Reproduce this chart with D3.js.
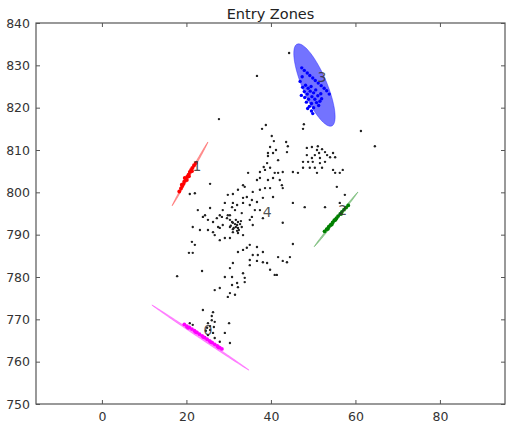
<!DOCTYPE html>
<html>
<head>
<meta charset="utf-8">
<script src="https://cdn.jsdelivr.net/npm/d3@7"></script>
<style>
  body { margin: 0; background: #fff; }
  text { font-family: "DejaVu Sans", sans-serif; }
</style>
</head>
<body>
<script>
// chart size
var w = 506;
var h = 423;

// axis ticks
var xTicks = [0, 20, 40, 60, 80];
var yTicks = [750, 760, 770, 780, 790, 800, 810, 820, 830, 840];

// zone ellipses: label, colour, centre, semi axes, angle (deg)
var zoneLabels = ["1", "2", "3", "0"];
var zoneColors = ["red", "green", "blue", "magenta"];
var zoneCx = [20.85, 55.4, 50.3, 23.3];
var zoneCy = [804.35, 793.6, 825.35, 765.7];
var zoneA = [8.66, 8.3, 10.5, 13.84];
var zoneB = [0.22, 0.22, 2.9, 0.22];
var zoneAngle = [60.6, 51.3, -67, -33.8];
var zoneAlpha = [0.4, 0.4, 0.55, 0.45];

// label positions
var labelX = [22.5, 57.0, 52.1, 25.1, 39.1];
var labelY = [806.2, 795.8, 827.2, 767.5, 795.4];
var labelText = ["1", "2", "3", "0", "4"];

// points assigned to zones
var redPts = [[18.3,800.2],[18.7,800.9],[19.0,801.5],[19.3,802.0],[19.5,802.6],[19.9,803.1],[20.2,803.7],[20.5,804.2],[20.8,804.8],[21.1,805.3],[21.4,805.8],[21.8,806.4],[22.2,806.9],[18.9,801.8],[20.6,803.8],[21.3,805.0],[19.6,803.4],[20.1,802.9]];
var greenPts = [[52.7,790.8],[53.2,791.3],[53.7,791.9],[54.1,792.3],[54.6,792.9],[55.0,793.4],[55.5,793.9],[55.9,794.4],[56.4,794.9],[56.8,795.4],[57.3,795.9],[57.8,796.4],[58.3,796.9],[53.5,791.4],[55.3,793.5],[56.6,794.9],[54.4,792.4]];
var bluePts = [[47.3,829.4],[47.9,828.8],[48.6,828.2],[49.2,827.6],[49.9,827.0],[50.5,826.4],[51.2,825.8],[51.9,825.2],[52.6,824.6],[53.2,824.0],[53.8,823.2],
  [47.5,824.8],[48.2,825.3],[48.8,824.6],[49.5,825.0],[47.9,823.8],[48.6,823.2],[49.3,823.9],[50.1,823.5],[50.6,824.2],[47.2,822.9],[48.0,822.4],[48.9,822.0],[49.7,822.6],[50.4,822.0],[51.1,822.8],[51.6,821.5],[50.8,821.2],[49.6,821.0],[48.4,821.3],[49.1,820.3],[50.1,820.0],[51.3,820.5],[52.0,822.1],[49.6,819.2],[48.7,819.8],[46.9,826.2],[47.4,827.3],[51.8,823.3],[49.9,818.6]];
var magentaPts = [[19.5,768.8],[20.1,768.4],[20.7,768.1],[21.3,767.7],[21.9,767.3],[22.5,766.9],[23.1,766.5],[23.7,766.1],[24.3,765.7],[24.9,765.3],[25.5,764.9],[26.1,764.5],[26.7,764.1],[27.3,763.7],[27.9,763.3],[28.4,763.0],[20.4,768.0],[22.2,767.0],[24.0,765.8],[25.8,764.6],[27.6,763.4]];

// the other entries (black dots)
var otherPts = [
  [44.3,832.9],[36.7,827.5],[27.7,817.3],[61.3,814.5],[64.6,810.9],[37.9,815.0],[38.8,815.9],[47.6,815.0],[47.8,816.1],
  [40.2,813.3],[40.7,812.1],[39.8,810.7],[41.2,810.0],[39.3,809.3],[40.5,809.3],[43.6,811.9],[44.0,810.9],[43.8,809.5],[39.1,806.9],[38.3,806.0],[39.8,805.8],[41.7,804.6],[42.8,804.8],[40.9,804.6],[40.5,803.4],[39.3,802.9],[42.1,802.9],[36.7,802.9],[37.4,803.4],[34.6,804.6],[37.4,804.8],[38.6,805.3],[41.7,807.6],[39.3,808.6],
  [48.5,810.5],[49.7,810.7],[50.9,810.0],[51.4,809.3],[52.8,809.5],[53.3,808.8],[50.4,808.8],[48.5,808.8],[54.7,809.3],[55.2,808.3],[51.1,810.9],[52.1,810.2],[49.7,808.1],[51.6,808.1],[54.0,808.3],[48.8,807.2],[49.9,807.2],[51.6,806.9],[52.8,807.2],[47.6,807.2],[49.2,805.8],[50.4,805.8],[52.1,805.8],[50.9,804.6],[54.7,805.3],[55.2,804.6],[56.3,804.6],[57.0,805.3],[45.2,804.8],[46.4,804.6],[47.6,805.8],
  [55.6,801.3],[57.5,799.4],[52.8,796.5],[48.0,796.5],[45.2,797.5],[42.8,792.8],[56.3,797.5],
  [33.8,801.3],[34.3,798.9],[32.2,800.6],[31.0,799.6],[29.8,799.4],[33.4,798.7],[35.7,800.1],[37.4,800.6],[38.6,801.0],[39.8,801.0],[42.6,801.7],[42.8,801.0],[40.5,798.9],[38.1,798.7],[36.7,797.7],[35.0,797.0],[33.4,797.5],[32.0,797.0],[30.8,796.5],[29.1,797.5],[28.6,795.8],[27.9,794.6],[28.4,794.2],[29.6,793.9],[30.3,793.5],[27.2,793.9],[26.3,793.0],[25.1,793.5],[24.4,794.6],[22.7,795.8],[23.9,794.2],[21.5,791.8],[23.2,791.1],[25.1,791.1],[26.3,790.6],[27.5,791.8],[28.6,792.3],[30.3,791.8],[31.0,792.8],[32.0,792.3],[32.2,791.6],[33.1,791.8],[31.0,790.6],[32.2,790.4],[33.4,789.9],[29.1,789.2],[27.9,788.7],[26.7,789.9],[30.3,789.2],[35.0,793.5],[35.7,792.3],[35.5,794.2],[36.2,795.8],[37.4,795.8],[33.1,795.1],[31.5,795.8],[38.1,793.9],[29.8,794.6],[21.3,788.3],[22.0,787.6],[20.6,785.7],[21.5,785.7],[32.2,785.9],[33.4,786.4],[35.0,787.6],[36.7,787.1],[38.1,785.9],[36.9,785.2],[35.7,785.2],[35.0,784.0],[36.7,783.8],[38.1,783.5],[41.7,784.7],[42.8,783.8],[43.8,783.5],[44.5,784.7],[45.2,787.8],[25.6,802.0],[20.8,799.6],[22.0,799.8],[33.4,801.7],[35.5,798.2],[31.0,797.5],[25.6,796.3],[27.9,791.6],[30.3,794.6],[34.3,786.9],[39.1,783.3],[40.9,780.5],
  [30.8,793.0],[31.5,792.5],[32.2,793.0],[31.7,791.8],[32.7,792.5],[31.2,791.6],[30.5,792.1],[32.4,791.1],[31.7,793.5],[31.0,791.3],[32.9,793.2],[32.0,790.9],
  [17.8,780.2],[23.7,781.4],[29.1,780.0],[30.3,782.1],[31.0,783.3],[33.4,780.9],[33.8,779.8],[35.0,782.8],[39.8,781.7],[41.4,780.5],[30.8,778.1],[32.0,778.6],[32.2,777.6],[26.7,776.9],[27.9,777.4],[30.3,776.2],[29.8,775.3],[31.5,775.8],[33.8,778.8],[30.8,780.0],
  [23.9,772.2],[26.3,771.7],[26.0,769.8],[26.7,769.4],[25.1,769.1],[24.9,768.0],[25.6,767.5],[26.3,766.8],[25.1,766.3],[24.4,765.8],[26.7,765.6],[30.1,769.1],[29.1,766.8],[30.3,764.4],[27.9,764.7],[20.8,769.1],[21.5,768.7],[20.1,768.2],[25.6,768.4],[26.0,770.8],[26.5,768.2],[24.6,767.3]
];

// plot box
var plotL = 36, plotR = 505, plotT = 23, plotB = 404;

var x = d3.scaleLinear().domain([-15.6, 95.4]).range([plotL, plotR]);
var y = d3.scaleLinear().domain([750, 840]).range([plotB, plotT]);

var svg = d3.select("body")
            .append("svg")
            .attr("width", w)
            .attr("height", h);

svg.append("clipPath").attr("id", "plot")
  .append("rect")
  .attr("x", plotL).attr("y", plotT)
  .attr("width", plotR - plotL).attr("height", plotB - plotT);

var g = svg.append("g").attr("clip-path", "url(#plot)");

// ellipse outline from centre, axes, angle
var ellipsePts = function(i) {
  var rad = zoneAngle[i] * Math.PI / 180;
  var pts = [];
  for (var k = 0; k < 120; k++) {
    var t = k / 120 * 2 * Math.PI;
    var ca = zoneA[i] * Math.cos(t), cb = zoneB[i] * Math.sin(t);
    pts.push([zoneCx[i] + ca * Math.cos(rad) - cb * Math.sin(rad),
              zoneCy[i] + ca * Math.sin(rad) + cb * Math.cos(rad)]);
  }
  return pts;
};

var line = d3.line()
  .x(function(d) { return x(d[0]); })
  .y(function(d) { return y(d[1]); })
  .curve(d3.curveLinearClosed);

g.selectAll("path.zone")
  .data(zoneLabels)
  .enter().append("path")
  .attr("class", "zone")
  .attr("d", function(d, i) { return line(ellipsePts(i)); })
  .attr("fill", function(d, i) { return zoneColors[i]; })
  .attr("fill-opacity", function(d, i) { return zoneAlpha[i]; })
  .attr("stroke", function(d, i) { return zoneColors[i]; })
  .attr("stroke-opacity", function(d, i) { return zoneAlpha[i] * 0.8; })
  .attr("stroke-width", 0.8);

// black dots
g.selectAll("circle.other")
  .data(otherPts)
  .enter().append("circle")
  .attr("class", "other")
  .attr("cx", function(d) { return x(d[0]); })
  .attr("cy", function(d) { return y(d[1]); })
  .attr("r", 1.2)
  .attr("fill", "#222");

// zone points
var groups = [redPts, greenPts, bluePts, magentaPts];
groups.forEach(function(pts, i) {
  g.selectAll("circle.z" + i)
    .data(pts)
    .enter().append("circle")
    .attr("class", "z" + i)
    .attr("cx", function(d) { return x(d[0]); })
    .attr("cy", function(d) { return y(d[1]); })
    .attr("r", i == 2 ? 1.7 : 1.9)
    .attr("fill", zoneColors[i]);
});

// zone numbers
g.selectAll("text.lab")
  .data(labelText)
  .enter().append("text")
  .attr("class", "lab")
  .attr("x", function(d, i) { return x(labelX[i]); })
  .attr("y", function(d, i) { return y(labelY[i]); })
  .attr("dy", "0.36em")
  .attr("text-anchor", "middle")
  .attr("font-size", 14)
  .attr("fill", "#333")
  .attr("fill-opacity", 0.85)
  .text(function(d) { return d; });

// frame
svg.append("rect")
  .attr("x", plotL).attr("y", plotT)
  .attr("width", plotR - plotL).attr("height", plotB - plotT)
  .attr("fill", "none")
  .attr("stroke", "#555")
  .attr("stroke-width", 1.2);

// axes with inward ticks
var tickStyle = function(sel) {
  sel.select(".domain").remove();
  sel.selectAll(".tick line").attr("stroke", "#555");
  sel.selectAll(".tick text").attr("fill", "#333").attr("font-size", 12.5)
     .attr("font-family", "DejaVu Sans, sans-serif");
};

svg.append("g").attr("transform", "translate(0," + plotB + ")")
  .call(d3.axisBottom(x).tickValues(xTicks).tickSizeInner(-4).tickPadding(8))
  .call(tickStyle);
svg.append("g").attr("transform", "translate(0," + plotT + ")")
  .call(d3.axisTop(x).tickValues(xTicks).tickSizeInner(-4).tickFormat(""))
  .call(tickStyle);
svg.append("g").attr("transform", "translate(" + plotL + ",0)")
  .call(d3.axisLeft(y).tickValues(yTicks).tickSizeInner(-4).tickPadding(6))
  .call(tickStyle);
svg.append("g").attr("transform", "translate(" + plotR + ",0)")
  .call(d3.axisRight(y).tickValues(yTicks).tickSizeInner(-4).tickFormat(""))
  .call(tickStyle);

// title
svg.append("text")
  .attr("x", (plotL + plotR) / 2)
  .attr("y", 19)
  .attr("text-anchor", "middle")
  .attr("font-size", 14.5)
  .attr("fill", "#222")
  .text("Entry Zones");
</script>
</body>
</html>
